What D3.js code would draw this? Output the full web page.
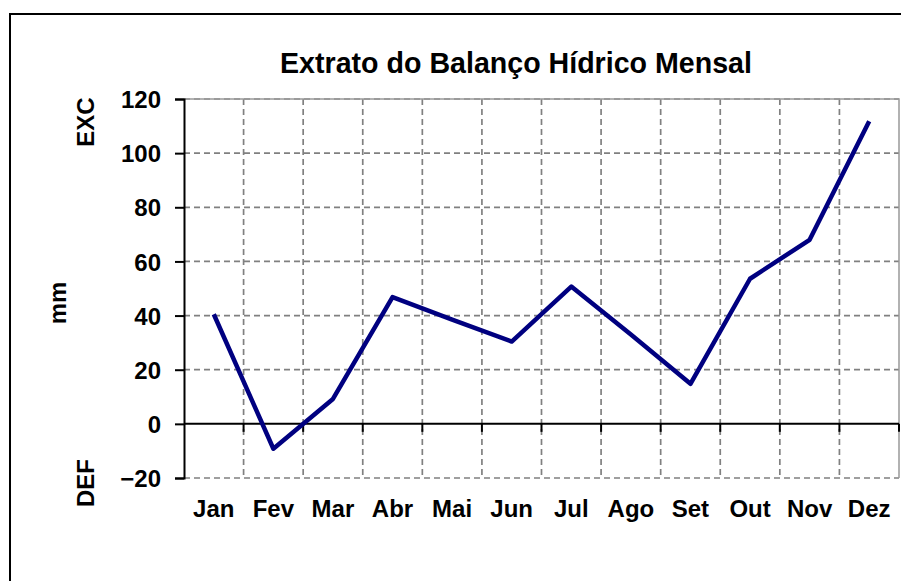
<!DOCTYPE html>
<html>
<head>
<meta charset="utf-8">
<script src="https://cdn.jsdelivr.net/npm/d3@7"></script>
<style>
  body { margin: 0; background: #fff; }
  text { font-family: "Liberation Sans", Arial, sans-serif; font-weight: bold; fill: #000; }
</style>
</head>
<body>
<svg width="901" height="581"></svg>
<script>
var months = ["Jan", "Fev", "Mar", "Abr", "Mai", "Jun", "Jul", "Ago", "Set", "Out", "Nov", "Dez"];
var balanco = [40.5, -9.2, 9.2, 46.8, 38.5, 30.4, 50.7, 33, 14.8, 53.6, 68, 111.8];
var yTicks = [-20, 0, 20, 40, 60, 80, 100, 120];

var svg = d3.select("svg"),
    margin = {left: 184, right: 2, top: 99, bottom: 103},
    width = +svg.attr("width") - margin.left - margin.right,
    height = +svg.attr("height") - margin.top - margin.bottom;

// outer frame
svg.append("rect")
    .attr("x", 10).attr("y", 14)
    .attr("width", 900).attr("height", 580)
    .attr("fill", "none").attr("stroke", "#000").attr("stroke-width", 2);

svg.append("text")
    .attr("x", 516).attr("y", 73)
    .attr("text-anchor", "middle")
    .style("font-size", "28.6px")
    .text("Extrato do Balanço Hídrico Mensal");

var g = svg.append("g").attr("transform", "translate(" + margin.left + "," + margin.top + ")");

var x = d3.scaleBand().domain(months).range([0, width]);
var y = d3.scaleLinear().domain([-20, 120]).range([height, 0]);

// horizontal grid
g.selectAll(".hgrid")
  .data(yTicks.filter(function(d) { return d != 0; }))
  .enter().append("line")
    .attr("x1", 0).attr("x2", width)
    .attr("y1", function(d) { return y(d); })
    .attr("y2", function(d) { return y(d); })
    .attr("stroke", "#808080").attr("stroke-width", 1.7)
    .attr("stroke-dasharray", "6,4");

// vertical grid at month boundaries
g.selectAll(".vgrid")
  .data(months.slice(1))
  .enter().append("line")
    .attr("x1", function(d) { return x(d); })
    .attr("x2", function(d) { return x(d); })
    .attr("y1", 0).attr("y2", height)
    .attr("stroke", "#808080").attr("stroke-width", 1.7)
    .attr("stroke-dasharray", "6,4");

// plot border top / right
g.append("path")
    .attr("d", "M0,0H" + width + "V" + height)
    .attr("fill", "none").attr("stroke", "#999").attr("stroke-width", 1.5);

// y axis
var yAxis = g.append("g")
    .call(d3.axisLeft(y).tickValues(yTicks).tickSize(9).tickPadding(14));
yAxis.select(".domain").attr("stroke-width", 2);
yAxis.selectAll("line").attr("stroke-width", 2);
yAxis.selectAll("text").style("font-size", "24px").attr("dy", "0.36em");

// zero line with ticks at month boundaries
var xAxis = g.append("g")
    .attr("transform", "translate(0," + y(0) + ")");
xAxis.append("line")
    .attr("x1", 0).attr("x2", width)
    .attr("stroke", "#000").attr("stroke-width", 2);
xAxis.selectAll(".tk")
  .data(months.slice(1).concat(["end"]))
  .enter().append("line")
    .attr("x1", function(d) { return d == "end" ? width : x(d); })
    .attr("x2", function(d) { return d == "end" ? width : x(d); })
    .attr("y1", 0).attr("y2", 8)
    .attr("stroke", "#000").attr("stroke-width", 2);

// month labels
g.selectAll(".mlab")
  .data(months)
  .enter().append("text")
    .attr("x", function(d) { return x(d) + x.bandwidth() / 2; })
    .attr("y", 517 - margin.top)
    .attr("text-anchor", "middle")
    .style("font-size", "24px")
    .text(function(d) { return d; });

// series
var line = d3.line()
    .x(function(d, i) { return x(months[i]) + x.bandwidth() / 2; })
    .y(function(d) { return y(d); });

g.append("path")
    .datum(balanco)
    .attr("d", line)
    .attr("fill", "none")
    .attr("stroke", "#000080")
    .attr("stroke-width", 4.5)
    .attr("stroke-linejoin", "round");

// side labels
function vlabel(txt, cx, cy) {
  svg.append("text")
      .attr("transform", "translate(" + cx + "," + cy + ") rotate(-90)")
      .attr("text-anchor", "middle")
      .attr("dy", "0.36em")
      .style("font-size", "24px")
      .text(txt);
}
vlabel("EXC", 85, 122);
vlabel("mm", 57, 303);
vlabel("DEF", 85, 483);
</script>
</body>
</html>
